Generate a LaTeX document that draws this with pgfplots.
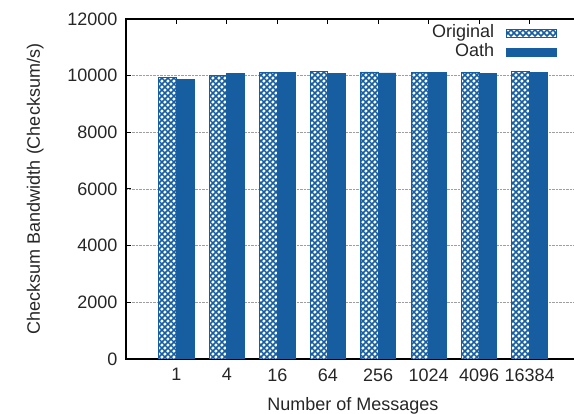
\documentclass[border=0pt]{standalone}
\usepackage{fontspec}
\setmainfont{Liberation Sans}
\usepackage{pgfplots}
\pgfplotsset{compat=1.18}
\usetikzlibrary{patterns.meta}
\definecolor{bblue}{RGB}{22,94,160}
\tikzdeclarepattern{
  name=xdots,
  type=uncolored,
  bounding box={(0pt,0pt) and (6.4pt,6.4pt)},
  tile size={(6.4pt,6.4pt)},
  code={
    \draw[line width=1.6pt] (-1pt,-1pt) -- (7.4pt,7.4pt);
    \draw[line width=1.6pt] (-1pt,7.4pt) -- (7.4pt,-1pt);
  }
}
\pgfplotsset{mylegend/.style={legend image code/.code={\draw[##1] (0pt,-4pt) rectangle (50pt,4pt);}}}
\begin{document}
\begin{tikzpicture}
\begin{axis}[
  at={(126pt,55pt)}, anchor=south west,
  scale only axis, width=454pt, height=340pt,
  xmin=0, xmax=9, ymin=0, ymax=12000,
  xtick={1,...,8}, xticklabels={1,4,16,64,256,1024,4096,16384},
  ytick={0,2000,...,12000},
  scaled y ticks=false,
  /pgf/number format/1000 sep={},
  /pgf/number format/assume math mode=true,
  tick align=inside, major tick length=5pt, tick style={black, line width=1pt},
  axis line style={line width=1.2pt},
  ymajorgrids, grid style={densely dotted, gray!75, line width=0.5pt},
  tick label style={font=\fontsize{18}{21}\selectfont, text=black!85},
  label style={font=\fontsize{18}{21}\selectfont, text=black!85},
  xticklabel style={yshift=-6pt},
  yticklabel style={xshift=-5pt},
  xlabel={Number of Messages},
  ylabel={Checksum Bandwidth (Checksum/s)},
  xlabel style={at={(axis description cs:0.5,-0.152)}, anchor=base},
  ylabel style={at={(axis description cs:-0.2,0.5)}, anchor=center},
  legend plot pos=right,
  legend cell align=right,
  legend style={at={(axis description cs:1,1)}, anchor=north east, xshift=-23pt, yshift=-6pt, draw=none, fill=none, inner sep=0pt, outer sep=0pt, font=\fontsize{18}{21}\selectfont, text=black!85, row sep=1.5pt, column sep=12pt, nodes={inner sep=0pt, text height=13pt, text depth=4pt}},
]
\addplot[ybar, bar width=0.35, bar shift=-0.175, draw=bblue, line width=0.8pt, fill=white, postaction={pattern=xdots, pattern color=bblue}, mylegend]
  coordinates {(1,9930) (2,10000) (3,10120) (4,10155) (5,10130) (6,10120) (7,10120) (8,10140)};
\addlegendentry{Original}
\addplot[ybar, bar width=0.35, bar shift=0.175, draw=bblue, line width=0.8pt, fill=bblue, mylegend]
  coordinates {(1,9880) (2,10070) (3,10120) (4,10085) (5,10095) (6,10120) (7,10085) (8,10105)};
\addlegendentry{Oath}
\end{axis}
\pgfresetboundingbox
\useasboundingbox (0pt,0pt) rectangle (574pt,414pt);
\end{tikzpicture}
\end{document}
